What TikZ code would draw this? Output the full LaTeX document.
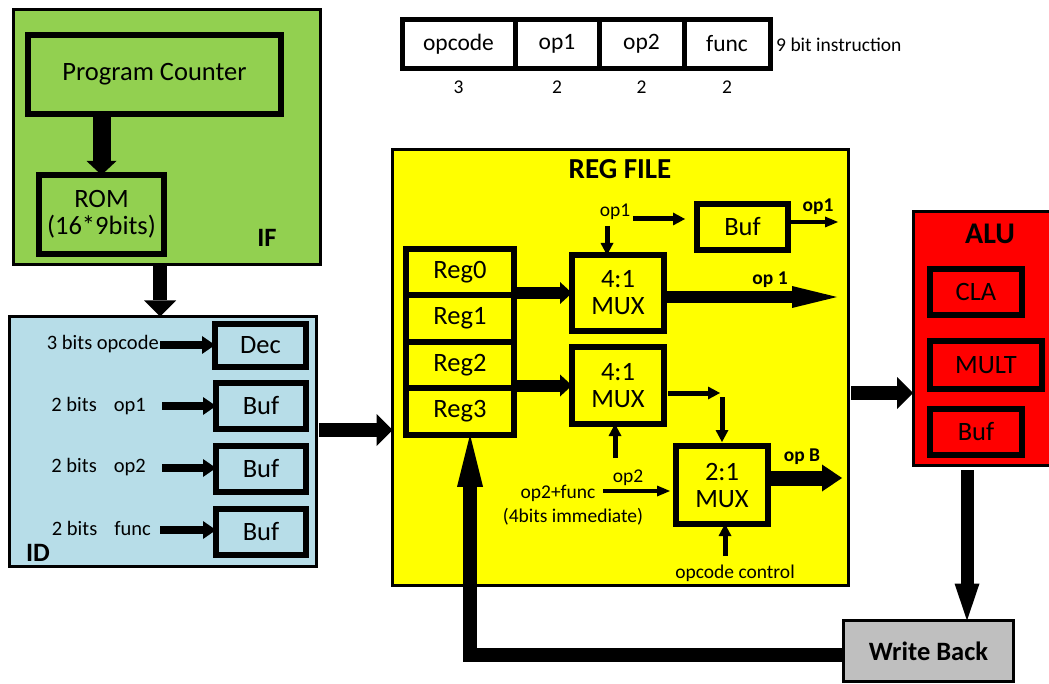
\documentclass[tikz,border=0pt]{standalone}
\usepackage{fontspec}
\setmainfont{Carlito}
\usetikzlibrary{arrows.meta,calc}
\definecolor{ifgreen}{HTML}{92D050}
\definecolor{idblue}{HTML}{B7DDE8}
\definecolor{regyellow}{HTML}{FFFF00}
\definecolor{alured}{HTML}{FF0000}
\definecolor{wbgray}{HTML}{BFBFBF}
\newcommand\mainfs{\fontsize{26.5}{29}\selectfont}
\newcommand\titlefs{\fontsize{29}{32}\selectfont}
\newcommand\alufs{\fontsize{30}{33}\selectfont}
\newcommand\insfs{\fontsize{23.5}{26}\selectfont}
\newcommand\lblfs{\fontsize{20.5}{22}\selectfont}
\newcommand\smfs{\fontsize{19.5}{21}\selectfont}
\begin{document}
\begin{tikzpicture}[x=1pt,y=-1pt,
  outerbox/.style={draw=black, line width=3pt, inner sep=0pt, outer sep=0pt},
  innerbox/.style={draw=black, line width=6pt, inner sep=0pt, outer sep=0pt, font=\mainfs, align=center},
  field/.style={draw=black, line width=5pt, fill=white, inner sep=0pt, outer sep=0pt, minimum height=49pt, font=\insfs},
  lbl/.style={inner sep=0pt, font=\lblfs},
  sml/.style={inner sep=0pt, font=\smfs},
  pcarrow/.style={line width=18pt, -{Triangle[line width=0pt,length=14pt,width=30pt]}},
  hugearrow/.style={line width=14pt, -{Triangle[line width=0pt,length=16pt,width=32pt]}},
  regarrow/.style={line width=12pt, -{Triangle[line width=0pt,length=12pt,width=22pt]}},
  longarrow/.style={line width=12pt, -{Triangle[line width=0pt,length=45pt,width=22pt]}},
  obarrow/.style={line width=15pt, -{Triangle[line width=0pt,length=20pt,width=27pt]}},
  wbarrow/.style={line width=13pt, -{Triangle[line width=0pt,length=37pt,width=25pt]}},
  backarrow/.style={line width=14pt, -{Triangle[line width=0pt,length=52pt,width=26pt]}},
  sarrow/.style={line width=8pt, -{Triangle[line width=0pt,length=13pt,width=18pt]}},
  tarrow/.style={line width=5pt, -{Triangle[line width=0pt,length=12pt,width=13pt]}},
  hairarrow/.style={line width=4pt, -{Triangle[line width=0pt,length=13pt,width=11pt]}}
]
\useasboundingbox (0,0) rectangle (1049,684);

% ---------- Instruction format ----------
\node[field, minimum width=113pt] (fop)  at (458.5,44) {opcode};
\node[field, minimum width=84pt]  (fo1)  at (557,44) {op1};
\node[field, minimum width=85pt]  (fo2)  at (641.5,44) {op2};
\node[field, minimum width=86pt]  (ffn)  at (727,44) {func};
\node[sml, anchor=west] (instr) at (776,45) {9 bit instruction};
\node[sml] (n3)  at (fop |- 0,87) {3};
\node[sml] (n2a) at (fo1 |- 0,87) {2};
\node[sml] (n2b) at (fo2 |- 0,87) {2};
\node[sml] (n2c) at (ffn |- 0,87) {2};

% ---------- IF ----------
\node[outerbox, fill=ifgreen, minimum width=307pt, minimum height=255pt] (IF) at (167,137) {};
\node[innerbox, fill=ifgreen, minimum width=253pt, minimum height=79pt] (PC) at (154.5,74.5) {Program Counter};
\node[innerbox, fill=ifgreen, minimum width=125pt, minimum height=79pt] (ROM) at (101.5,214.5) {ROM\\[-2pt](16*9bits)};
\node[font=\bfseries\mainfs, inner sep=0pt] (IFl) at (267,238) {IF};
\draw[pcarrow] (ROM.north |- PC.south) -- (ROM.north);

% ---------- ID ----------
\node[outerbox, fill=idblue, minimum width=307pt, minimum height=250pt] (ID) at (163,441.5) {};
\node[innerbox, fill=idblue, minimum width=91pt, minimum height=43pt] (Dec) at (260.5,345.5) {Dec};
\node[innerbox, fill=idblue, minimum width=90pt, minimum height=46pt] (B1) at (261,406) {Buf};
\node[innerbox, fill=idblue, minimum width=90pt, minimum height=46pt] (B2) at (261,469) {Buf};
\node[innerbox, fill=idblue, minimum width=90pt, minimum height=46pt] (B3) at (261,531.5) {Buf};
\node[font=\bfseries\mainfs, inner sep=0pt] (IDl) at (38,553) {ID};
\node[lbl, anchor=east] (t0) at (159,344) {3 bits opcode};
\node[lbl, anchor=east] (t1) at (146,406) {2 bits\hspace{17pt}op1};
\node[lbl, anchor=east] (t2) at (146,467) {2 bits\hspace{17pt}op2};
\node[lbl, anchor=east] (t3) at (151,528) {2 bits\hspace{17pt}func};
\coordinate (a0) at (160,345);
\coordinate (a1) at (162,406);
\coordinate (a2) at (162,468);
\coordinate (a3) at (160,530);
\draw[sarrow] (a0) -- (a0 -| Dec.west);
\draw[sarrow] (a1) -- (a1 -| B1.west);
\draw[sarrow] (a2) -- (a2 -| B2.west);
\draw[sarrow] (a3) -- (a3 -| B3.west);

\coordinate (ifo) at (160,266);
\draw[hugearrow] (ifo) -- (ifo |- ID.north);

% ---------- REG FILE ----------
\node[outerbox, fill=regyellow, minimum width=456pt, minimum height=436pt] (REG) at (620.5,367.5) {};
\node[font=\bfseries\titlefs, inner sep=0pt] (REGl) at (620,169) {REG FILE};
\node[innerbox, fill=regyellow, minimum width=108pt, minimum height=46.5pt] (R0) at (460,272) {Reg0};
\node[innerbox, fill=regyellow, minimum width=108pt, minimum height=46.5pt] (R1) at (460,318.5) {Reg1};
\node[innerbox, fill=regyellow, minimum width=108pt, minimum height=46.5pt] (R2) at (460,365) {Reg2};
\node[innerbox, fill=regyellow, minimum width=108pt, minimum height=46.5pt] (R3) at (460,411.5) {Reg3};
\node[innerbox, fill=regyellow, minimum width=92pt, minimum height=76pt] (M1) at (618,293) {4:1\\[-2pt]MUX};
\node[innerbox, fill=regyellow, minimum width=92pt, minimum height=77pt] (M2) at (618,385.5) {4:1\\[-2pt]MUX};
\node[innerbox, fill=regyellow, minimum width=92pt, minimum height=78pt] (M3) at (722,485) {2:1\\[-2pt]MUX};
\node[innerbox, fill=regyellow, minimum width=91pt, minimum height=46pt] (RB) at (742.5,227) {Buf};

\draw[regarrow] (M1.west -| R0.east) -- (M1.west);
\draw[regarrow] (M2.west -| R0.east) -- (M2.west);

\node[sml] (op1in) at (615,212) {op1};
\coordinate (p1) at (633,219);
\draw[tarrow] (p1) -- (685,219);
\coordinate (p2) at (607,226);
\draw[tarrow] (p2) -- (p2 |- M1.north);
\draw[hairarrow] (RB.east) ++(3,-5) coordinate (p3) -- ++(47,0);
\node[font=\bfseries\smfs, inner sep=0pt] (op1out) at (818,207) {op1};

\coordinate (o1) at (667,297);
\draw[longarrow] (o1) -- (837,297);
\node[font=\bfseries\smfs, inner sep=0pt] (op1b) at (770,280) {op 1};

\coordinate (m2o) at (668,393);
\draw[tarrow] (m2o) -- (720,393);
\coordinate (m3i) at (722,397);
\draw[tarrow] (m3i) -- ([yshift=4pt]M3.north);

\coordinate (u2) at (615,458);
\draw[tarrow] (u2) -- (u2 |- M2.south);
\coordinate (u3) at (725,556);
\draw[tarrow] (u3) -- (u3 |- M3.south);

\node[sml] (op2l) at (628,478) {op2};
\node[sml] (op2f) at (558,493) {op2+func};
\node[sml] (imm) at (573,517) {(4bits immediate)};
\coordinate (p4) at (603,491);
\draw[hairarrow] (p4) -- (670,491);
\node[sml] (occ) at (735,573) {opcode control};

\coordinate (o3) at (771,478);
\draw[obarrow] (o3) -- (842,478);
\node[font=\bfseries\smfs, inner sep=0pt] (opB) at (802,457) {op B};

% ID -> REG
\coordinate (ir) at (319,430);
\draw[hugearrow] (ir) -- (ir -| REG.west);

% ---------- ALU ----------
\node[outerbox, fill=alured, minimum width=140pt, minimum height=254pt] (ALU) at (983,338.5) {};
\node[font=\bfseries\alufs, inner sep=0pt] (ALUl) at (990,234) {ALU};
\node[innerbox, fill=alured, minimum width=92pt, minimum height=46pt] (CLA) at (976,292) {CLA};
\node[innerbox, fill=alured, minimum width=112pt, minimum height=48pt] (MULT) at (986,365) {MULT};
\node[innerbox, fill=alured, minimum width=92pt, minimum height=46pt] (AB) at (976,432) {Buf};

\coordinate (ra) at (851,393);
\draw[hugearrow] (ra) -- (ra -| ALU.west);

% ---------- Write Back ----------
\node[outerbox, fill=wbgray, minimum width=170pt, minimum height=61pt, font=\bfseries\mainfs] (WB) at (928.5,651) {Write Back};
\coordinate (aw) at (967,470);
\draw[wbarrow] (aw) -- (aw |- WB.north);

\coordinate (bk) at (470,655);
\draw[backarrow] (WB.west |- bk) -- (bk) -- (bk |- R3.south);
\end{tikzpicture}
\end{document}
